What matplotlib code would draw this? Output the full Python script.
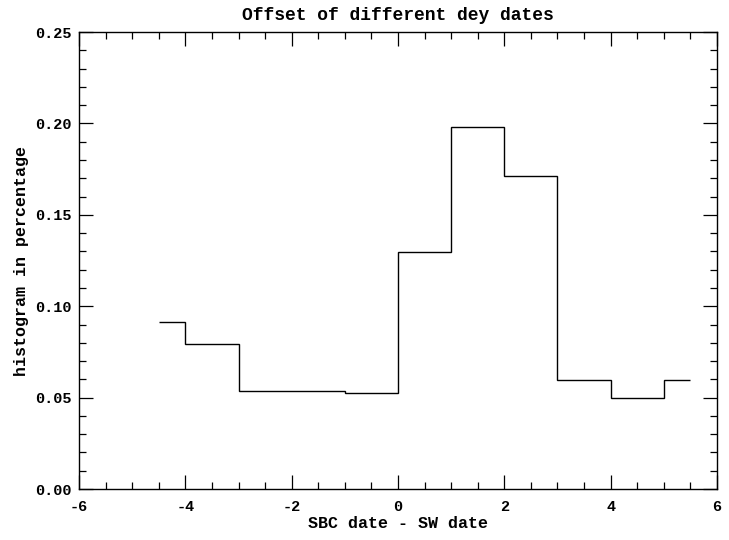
import numpy as np
import matplotlib
matplotlib.use("Agg")
import matplotlib.pyplot as plt
from matplotlib.ticker import MultipleLocator, FormatStrFormatter

# histogram of date offsets (IDL psym=10 style steps)
offsets = [-4.5, -3.5, -2.5, -1.5, -0.5, 0.5, 1.5, 2.5, 3.5, 4.5, 5.5]
percent = [0.0914, 0.0793, 0.0536, 0.0536, 0.0525, 0.1297, 0.1980, 0.1712, 0.0596, 0.0498, 0.0596]

x = np.array(offsets)
y = np.array(percent)
# edges: midpoints between points, first/last segment only half wide
edges = np.concatenate([[x[0]], (x[:-1] + x[1:]) / 2, [x[-1]]])

plt.rcParams["font.family"] = ["Liberation Mono", "DejaVu Sans Mono"]
plt.rcParams["font.weight"] = "bold"
plt.rcParams["axes.titleweight"] = "bold"
plt.rcParams["axes.labelweight"] = "bold"

fig = plt.figure(figsize=(7.29, 5.40), dpi=100)
ax = fig.add_axes([0.1084, 0.0944, 0.8751, 0.8463])

ax.stairs(y, edges, color="black", linewidth=1.0, baseline=None)

ax.set_xlim(-6, 6)
ax.set_ylim(0, 0.25)
ax.xaxis.set_major_locator(MultipleLocator(2))
ax.xaxis.set_minor_locator(MultipleLocator(0.5))
ax.yaxis.set_major_locator(MultipleLocator(0.05))
ax.yaxis.set_minor_locator(MultipleLocator(0.01))
ax.yaxis.set_major_formatter(FormatStrFormatter("%.2f"))
ax.xaxis.set_major_formatter(FormatStrFormatter("%d"))

ax.tick_params(which="both", direction="in", top=True, right=True,
               width=0.9, labelsize=11)
ax.tick_params(axis="x", pad=8)
ax.tick_params(axis="y", pad=5)
ax.tick_params(which="major", length=10)
ax.tick_params(which="minor", length=5)
for s in ax.spines.values():
    s.set_linewidth(1.0)

ax.set_title("Offset of different dey dates", fontsize=13, pad=9)
ax.set_xlabel("SBC date - SW date", fontsize=12, labelpad=1)
ax.set_ylabel("histogram in percentage", fontsize=12, labelpad=5)

fig.savefig("out.png", dpi=100)
